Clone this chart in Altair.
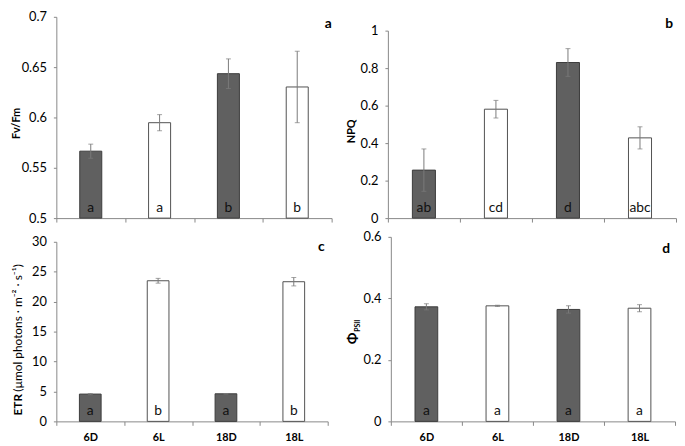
import altair as alt
import pandas as pd

FONT = "Lato"
groups = ["6D", "6L", "18D", "18L"]
kinds = ["dark", "light", "dark", "light"]

fvfm_mean = [0.5665, 0.5948, 0.6435, 0.6303]
fvfm_err = [0.007, 0.008, 0.0147, 0.0355]
fvfm_letters = ["a", "a", "b", "b"]
fvfm_ticks = [0.5, 0.55, 0.6, 0.65, 0.7]

npq_mean = [0.256, 0.581, 0.830, 0.428]
npq_err = [0.113, 0.047, 0.074, 0.059]
npq_letters = ["ab", "cd", "d", "abc"]
npq_ticks = [0, 0.2, 0.4, 0.6, 0.8, 1]

etr_mean = [4.56, 23.49, 4.61, 23.33]
etr_err = [0.1, 0.4, 0.05, 0.7]
etr_letters = ["a", "b", "a", "b"]
etr_ticks = [0, 5, 10, 15, 20, 25, 30]

phi_mean = [0.3725, 0.3757, 0.364, 0.368]
phi_err = [0.010, 0.002, 0.012, 0.0115]
phi_letters = ["a", "a", "a", "a"]
phi_ticks = [0, 0.2, 0.4, 0.6]

AXIS_GREY = "#878787"
ERR_GREY = "#7a7a7a"


def text_layer(txt, x, y, size=11, weight="normal", angle=0, align="center",
               baseline="middle"):
    return alt.Chart(pd.DataFrame({"t": [txt]})).mark_text(
        font=FONT, fontSize=size, fontWeight=weight, angle=angle, align=align,
        baseline=baseline, color="#000000"
    ).encode(x=alt.value(x), y=alt.value(y), text="t:N")


def panel(means, errs, letters, ymin, ymax, ticks, width, height, top, show_labels, extras):
    df = pd.DataFrame({
        "group": groups,
        "kind": kinds,
        "mean": means,
        "lo": [m - e for m, e in zip(means, errs)],
        "hi": [m + e for m, e in zip(means, errs)],
        "base": [ymin] * len(groups),
        "letter": letters,
    })
    xenc = alt.X(
        "group:N", sort=groups, title=None,
        scale=alt.Scale(paddingInner=0, paddingOuter=0),
        axis=alt.Axis(title=None, tickBand="extent", labels=show_labels,
                      labelFontWeight="bold", labelFontSize=11, labelAngle=0,
                      labelPadding=6, tickSize=4, domainColor=AXIS_GREY,
                      tickColor=AXIS_GREY, labelColor="#000000", labelFont=FONT),
    )
    yscale = alt.Scale(domain=[ymin, ymax], nice=False, zero=False, range=[height, top])

    def yax():
        return alt.Axis(title=None, values=ticks, format="~g", grid=False, tickSize=3,
                        labelPadding=7, labelFontSize=13, labelFont=FONT,
                        labelOverlap=False, labelColor="#000000",
                        domainColor=AXIS_GREY, tickColor=AXIS_GREY)

    base = alt.Chart(df).encode(x=xenc)
    bars = base.mark_bar(width={"band": 0.32}, strokeWidth=1).encode(
        y=alt.Y("mean:Q", scale=yscale, axis=yax(), title=None),
        y2="base:Q",
        fill=alt.Fill("kind:N", scale=alt.Scale(domain=["dark", "light"],
                                                range=["#606060", "#ffffff"]), legend=None),
        stroke=alt.Stroke("kind:N", scale=alt.Scale(domain=["dark", "light"],
                                                    range=["#3c3c3c", "#505050"]), legend=None),
    )
    rule = base.mark_rule(color=ERR_GREY, strokeWidth=1).encode(
        y=alt.Y("lo:Q", scale=yscale, axis=yax(), title=None), y2="hi:Q")
    cap_lo = base.mark_tick(color=ERR_GREY, size=5, thickness=1).encode(
        y=alt.Y("lo:Q", scale=yscale, axis=yax(), title=None))
    cap_hi = base.mark_tick(color=ERR_GREY, size=5, thickness=1).encode(
        y=alt.Y("hi:Q", scale=yscale, axis=yax(), title=None))
    lab = base.mark_text(font=FONT, fontSize=14, baseline="alphabetic", dy=-6,
                         color="#111111").encode(y=alt.value(height), text="letter:N")
    return alt.layer(bars, rule, cap_lo, cap_hi, lab, *extras).properties(
        width=width, height=height)


WA, WB, WC, WD = 279, 292, 275, 288
H1, H2 = 204, 187

pa = panel(fvfm_mean, fvfm_err, fvfm_letters, 0.5, 0.7, fvfm_ticks, WA, H1, 0, False, [
    text_layer("Fv/Fm", -40, 108, weight="bold", angle=270),
    text_layer("a", WA, 11, size=14, weight="bold", align="right", baseline="alphabetic"),
])
pb = panel(npq_mean, npq_err, npq_letters, 0, 1, npq_ticks, WB, H1, 14, False, [
    text_layer("NPQ", -36, 116, weight="bold", angle=270),
    text_layer("b", WB - 3, 11, size=14, weight="bold", align="right", baseline="alphabetic"),
])
pc = panel(etr_mean, etr_err, etr_letters, 0, 30, etr_ticks, WC, H2, 5, True, [
    text_layer("ETR", -39, 181, size=12, weight="bold", angle=270, align="left"),
    text_layer("(µmol  photons · m⁻² · s⁻¹)", -39, 157, size=12, angle=270, align="left"),
    text_layer("c", WC - 3, 14, size=14, weight="bold", align="right", baseline="alphabetic"),
])
pd_ = panel(phi_mean, phi_err, phi_letters, 0, 0.6, phi_ticks, WD, H2, 0, True, [
    text_layer("Φ", -38, 103, size=14, weight="bold", angle=270),
    text_layer("PSII", -33, 90, size=7, weight="bold", angle=270),
    text_layer("d", WD - 5, 16, size=14, weight="bold", align="right", baseline="alphabetic"),
])

top_row = alt.hconcat(pa, pb, spacing=14)
bottom_row = alt.hconcat(pc, pd_, spacing=18)
chart = alt.vconcat(top_row, bottom_row, spacing=6).properties(
    padding={"left": 3, "top": 0, "right": 0, "bottom": 0}).configure_view(stroke=None)

chart.save("out.html", embed_options={"renderer": "svg", "actions": False})
